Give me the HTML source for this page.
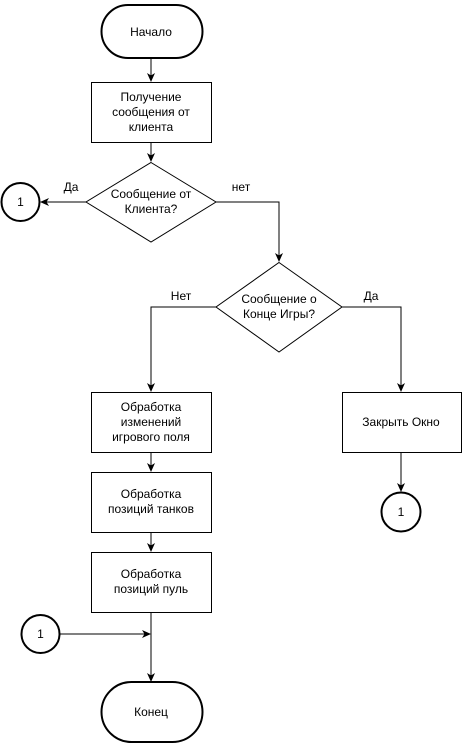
<!DOCTYPE html>
<html><head><meta charset="utf-8"><style>
html,body{margin:0;padding:0;background:#fff}
svg text{font-family:"Liberation Sans","Noto Sans CJK SC",sans-serif;font-size:12px;fill:#000}
</style></head><body>
<svg width="462" height="743" viewBox="0 0 462 743" xmlns="http://www.w3.org/2000/svg">
<defs><marker id="a" markerWidth="10" markerHeight="10" refX="8" refY="5" orient="auto" markerUnits="userSpaceOnUse"><path d="M0,1 L9,5 L0,9 L2.5,5 Z" fill="#000"/></marker></defs>
<g fill="none" stroke="#000" stroke-width="1">
<rect x="101.5" y="5" width="101" height="53" rx="26.5" stroke-width="2"/>
<line x1="151" y1="58" x2="151" y2="81" marker-end="url(#a)"/>
<rect x="91.5" y="82.5" width="120" height="60"/>
<line x1="151" y1="142" x2="151" y2="161" marker-end="url(#a)"/>
<polygon points="151,162.5 216,202 151,242 86,202"/>
<line x1="86" y1="202" x2="41" y2="202" marker-end="url(#a)"/>
<circle cx="20.5" cy="202" r="19" stroke-width="2"/>
<polyline points="216,202 279,202 279,261" marker-end="url(#a)"/>
<polygon points="279,262.5 342,307 279,352 216,307"/>
<polyline points="216,307 151,307 151,391" marker-end="url(#a)"/>
<polyline points="342,307 401,307 401,391" marker-end="url(#a)"/>
<rect x="91.5" y="392.5" width="120" height="60"/>
<rect x="342.5" y="392.5" width="119" height="60"/>
<line x1="401" y1="452" x2="401" y2="491" marker-end="url(#a)"/>
<circle cx="401" cy="512" r="19.5" stroke-width="2"/>
<line x1="151" y1="452" x2="151" y2="471" marker-end="url(#a)"/>
<rect x="91.5" y="472.5" width="120" height="60"/>
<line x1="151" y1="532" x2="151" y2="551" marker-end="url(#a)"/>
<rect x="91.5" y="552.5" width="120" height="60"/>
<line x1="151" y1="612" x2="151" y2="681" marker-end="url(#a)"/>
<circle cx="40.5" cy="634" r="19" stroke-width="2"/>
<line x1="60" y1="634" x2="150" y2="634" marker-end="url(#a)"/>
<rect x="101.5" y="682" width="101" height="60" rx="30" stroke-width="2"/>
</g>
<g text-anchor="middle">
<text x="151" y="36">Начало</text>
<text x="151" y="101">Получение</text>
<text x="151" y="116">сообщения от</text>
<text x="151" y="131">клиента</text>
<text x="151" y="198">Сообщение от</text>
<text x="151" y="213">Клиента?</text>
<text x="20.5" y="206">1</text>
<text x="71" y="191">Да</text>
<text x="241" y="191">нет</text>
<text x="279" y="303">Сообщение о</text>
<text x="279" y="318">Конце Игры?</text>
<text x="181" y="300">Нет</text>
<text x="371" y="300">Да</text>
<text x="151" y="411">Обработка</text>
<text x="151" y="426">изменений</text>
<text x="151" y="441">игрового поля</text>
<text x="401" y="426">Закрыть Окно</text>
<text x="401" y="516">1</text>
<text x="151" y="498">Обработка</text>
<text x="151" y="513">позиций танков</text>
<text x="151" y="578">Обработка</text>
<text x="151" y="593">позиций пуль</text>
<text x="40.5" y="638">1</text>
<text x="151" y="716">Конец</text>
</g>
</svg>
</body></html>
